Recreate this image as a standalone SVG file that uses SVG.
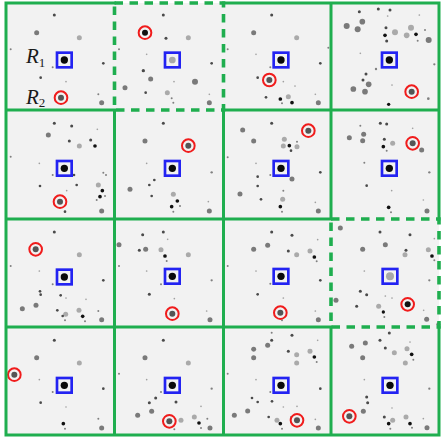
<svg xmlns="http://www.w3.org/2000/svg" xmlns:xlink="http://www.w3.org/1999/xlink" width="442" height="437" viewBox="0 0 442 437">
<style>
.t{fill:#a0a0a0}
.s{fill:#808080}
.sd{fill:#4a4a4a}
.b{fill:#111}
.g{fill:#7a7a7a}
.lg{fill:#aaaaaa}
.ck{fill:#0a0a0a}
.cl{fill:#a8a8a8}
.rk{fill:#111}
.rg{fill:#555}
.grid{fill:none;stroke:#1fae4f;stroke-width:3;stroke-linecap:square}
.dash{fill:none;stroke:#1fae4f;stroke-width:3.6;stroke-dasharray:8.5 6.5}
.lbl{font-family:"Liberation Serif","Times New Roman",serif;fill:#1a1a1a}
</style>
<defs>
<rect id="sq" x="-22" y="-22" width="44" height="44" fill="none" stroke="#2323f2" stroke-width="8"/>
<circle id="ring" r="19" fill="none" stroke="#f01c1c" stroke-width="6"/>
</defs>
<rect x="6" y="3" width="433" height="432" fill="#f2f2f2"/>

<g id="cell-r0c0" transform="scale(0.33333)">
<circle cx="163" cy="45" r="4.5" class="sd"/><circle cx="110" cy="98" r="7.5" class="g"/><circle cx="238" cy="113" r="7.5" class="lg"/><circle cx="32" cy="148" r="3" class="s"/><circle cx="310" cy="190" r="4" class="sd"/><circle cx="158" cy="202" r="3" class="s"/><circle cx="122" cy="233" r="4" class="sd"/><circle cx="198" cy="245" r="2.5" class="t"/><circle cx="295" cy="283" r="3" class="s"/><circle cx="305" cy="308" r="7.5" class="g"/>
<use xlink:href="#sq" x="193" y="180"/><circle cx="193" cy="180" r="11" class="ck"/>
<use xlink:href="#ring" x="183" y="293"/><circle cx="183" cy="293" r="9" class="rg"/>
</g>
<g id="cell-r0c1" transform="scale(0.33333)">
<circle cx="490" cy="45" r="4.5" class="sd"/><circle cx="498" cy="115" r="4.5" class="sd"/><circle cx="565" cy="113" r="7.5" class="lg"/><circle cx="440" cy="163" r="2.5" class="t"/><circle cx="357" cy="148" r="3" class="s"/><circle cx="635" cy="190" r="4" class="sd"/><circle cx="430" cy="212" r="5" class="sd"/><circle cx="452" cy="237" r="7.5" class="g"/><circle cx="522" cy="245" r="2.5" class="t"/><circle cx="585" cy="245" r="9" class="g"/><circle cx="375" cy="263" r="7.5" class="g"/><circle cx="437" cy="278" r="4" class="sd"/><circle cx="502" cy="278" r="7.5" class="lg"/><circle cx="515" cy="295" r="3" class="s"/><circle cx="520" cy="308" r="3" class="s"/><circle cx="628" cy="308" r="7.5" class="g"/><circle cx="628" cy="283" r="2.5" class="t"/>
<use xlink:href="#sq" x="517" y="180"/><circle cx="517" cy="180" r="10" class="cl"/>
<use xlink:href="#ring" x="435" y="98"/><circle cx="435" cy="98" r="9" class="rk"/>
</g>
<g id="cell-r1c0" transform="scale(0.33333)">
<circle cx="163" cy="370" r="4.5" class="sd"/><circle cx="215" cy="378" r="4.5" class="sd"/><circle cx="145" cy="405" r="7.5" class="g"/><circle cx="208" cy="423" r="4.5" class="sd"/><circle cx="238" cy="438" r="7.5" class="lg"/><circle cx="272" cy="420" r="4.5" class="sd"/><circle cx="292" cy="388" r="2.5" class="t"/><circle cx="285" cy="438" r="5.5" class="b"/><circle cx="32" cy="470" r="3" class="s"/><circle cx="118" cy="490" r="2.5" class="t"/><circle cx="158" cy="525" r="3" class="s"/><circle cx="222" cy="525" r="4" class="sd"/><circle cx="310" cy="518" r="3" class="s"/><circle cx="318" cy="525" r="3" class="s"/><circle cx="120" cy="558" r="4" class="sd"/><circle cx="230" cy="555" r="4" class="sd"/><circle cx="295" cy="555" r="7.5" class="lg"/><circle cx="200" cy="572" r="2.5" class="t"/><circle cx="307" cy="572" r="5.5" class="b"/><circle cx="300" cy="590" r="5.5" class="b"/><circle cx="290" cy="600" r="3" class="s"/><circle cx="315" cy="588" r="3" class="s"/><circle cx="195" cy="635" r="4" class="sd"/><circle cx="305" cy="633" r="7.5" class="g"/>
<use xlink:href="#sq" x="193" y="505"/><circle cx="193" cy="505" r="11" class="ck"/>
<use xlink:href="#ring" x="180" y="605"/><circle cx="180" cy="605" r="9" class="rg"/>
</g>
<g id="cell-r1c1" transform="scale(0.33333)">
<circle cx="490" cy="370" r="4.5" class="sd"/><circle cx="435" cy="423" r="7.5" class="g"/><circle cx="440" cy="490" r="2.5" class="t"/><circle cx="635" cy="517" r="3.5" class="s"/><circle cx="463" cy="540" r="4" class="sd"/><circle cx="448" cy="555" r="4" class="sd"/><circle cx="390" cy="568" r="7.5" class="g"/><circle cx="455" cy="588" r="4" class="sd"/><circle cx="520" cy="583" r="7.5" class="lg"/><circle cx="532" cy="603" r="5.5" class="b"/><circle cx="515" cy="620" r="5.5" class="b"/><circle cx="540" cy="618" r="3" class="s"/><circle cx="520" cy="635" r="3" class="s"/><circle cx="628" cy="633" r="7.5" class="g"/><circle cx="625" cy="605" r="2.5" class="t"/>
<use xlink:href="#sq" x="517" y="505"/><circle cx="517" cy="505" r="11" class="ck"/>
<use xlink:href="#ring" x="565" y="437"/><circle cx="565" cy="437" r="9" class="rg"/>
</g>

<g id="cell-r0c2" transform="translate(221,0) scale(0.33333)">
<circle cx="152" cy="45" r="4.5" class="sd"/><circle cx="98" cy="98" r="7.5" class="g"/><circle cx="227" cy="113" r="7.5" class="lg"/><circle cx="20" cy="148" r="3" class="s"/><circle cx="322" cy="143" r="3" class="s"/><circle cx="105" cy="163" r="2.5" class="t"/><circle cx="298" cy="190" r="4" class="sd"/><circle cx="148" cy="202" r="3" class="s"/><circle cx="110" cy="233" r="4" class="sd"/><circle cx="187" cy="245" r="2.5" class="t"/><circle cx="222" cy="258" r="2.5" class="t"/><circle cx="283" cy="283" r="2.5" class="t"/><circle cx="135" cy="292" r="4" class="sd"/><circle cx="178" cy="297" r="5.5" class="b"/><circle cx="202" cy="290" r="7.5" class="lg"/><circle cx="213" cy="308" r="5.5" class="b"/><circle cx="183" cy="310" r="3" class="s"/><circle cx="292" cy="308" r="7.5" class="g"/>
<use xlink:href="#sq" x="180" y="180"/><circle cx="180" cy="180" r="11" class="ck"/>
<use xlink:href="#ring" x="145" y="240"/><circle cx="145" cy="240" r="9" class="rg"/>
</g>
<g id="cell-r0c3" transform="translate(221,0) scale(0.33333)">
<circle cx="415" cy="35" r="4.5" class="sd"/><circle cx="472" cy="27" r="4.5" class="sd"/><circle cx="507" cy="30" r="4.5" class="sd"/><circle cx="500" cy="48" r="2.5" class="t"/><circle cx="595" cy="45" r="2.5" class="t"/><circle cx="424" cy="65" r="8.5" class="g"/><circle cx="377" cy="78" r="9" class="g"/><circle cx="410" cy="88" r="9" class="g"/><circle cx="495" cy="83" r="4.5" class="sd"/><circle cx="570" cy="83" r="9" class="lg"/><circle cx="522" cy="97" r="9" class="lg"/><circle cx="492" cy="106" r="5.5" class="b"/><circle cx="585" cy="103" r="5.5" class="b"/><circle cx="612" cy="90" r="3" class="s"/><circle cx="557" cy="106" r="8.5" class="lg"/><circle cx="497" cy="123" r="4.5" class="sd"/><circle cx="590" cy="122" r="3" class="s"/><circle cx="623" cy="120" r="9" class="g"/><circle cx="418" cy="160" r="2.5" class="t"/><circle cx="640" cy="193" r="3.5" class="s"/><circle cx="465" cy="207" r="3.5" class="s"/><circle cx="435" cy="222" r="4.5" class="sd"/><circle cx="426" cy="240" r="4.5" class="sd"/><circle cx="443" cy="253" r="8.5" class="g"/><circle cx="513" cy="255" r="2.5" class="t"/><circle cx="397" cy="267" r="8.5" class="g"/><circle cx="432" cy="275" r="8.5" class="g"/><circle cx="622" cy="296" r="4" class="s"/><circle cx="503" cy="313" r="5" class="b"/>
<use xlink:href="#sq" x="505" y="180"/><circle cx="505" cy="180" r="11" class="ck"/>
<use xlink:href="#ring" x="572" y="275"/><circle cx="572" cy="275" r="9" class="rg"/>
</g>
<g id="cell-r1c2" transform="translate(221,0) scale(0.33333)">
<circle cx="152" cy="370" r="4.5" class="sd"/><circle cx="65" cy="390" r="7.5" class="g"/><circle cx="98" cy="423" r="7.5" class="g"/><circle cx="190" cy="418" r="7.5" class="lg"/><circle cx="187" cy="438" r="7.5" class="lg"/><circle cx="205" cy="437" r="5.5" class="b"/><circle cx="228" cy="425" r="3" class="s"/><circle cx="228" cy="440" r="7.5" class="lg"/><circle cx="210" cy="452" r="4" class="sd"/><circle cx="20" cy="472" r="3" class="s"/><circle cx="105" cy="490" r="2.5" class="t"/><circle cx="298" cy="517" r="4" class="sd"/><circle cx="148" cy="525" r="3" class="s"/><circle cx="213" cy="537" r="7.5" class="g"/><circle cx="110" cy="530" r="4" class="sd"/><circle cx="110" cy="558" r="4" class="sd"/><circle cx="187" cy="572" r="3" class="s"/><circle cx="57" cy="582" r="7.5" class="g"/><circle cx="185" cy="598" r="7.5" class="lg"/><circle cx="120" cy="598" r="4" class="sd"/><circle cx="178" cy="620" r="5.5" class="b"/><circle cx="183" cy="635" r="3" class="s"/><circle cx="283" cy="607" r="2.5" class="t"/><circle cx="292" cy="633" r="7.5" class="g"/>
<use xlink:href="#sq" x="180" y="505"/><circle cx="180" cy="505" r="11" class="ck"/>
<use xlink:href="#ring" x="262" y="392"/><circle cx="262" cy="392" r="9" class="rg"/>
</g>
<g id="cell-r1c3" transform="translate(221,0) scale(0.33333)">
<circle cx="418" cy="377" r="3" class="s"/><circle cx="478" cy="370" r="4.5" class="sd"/><circle cx="497" cy="372" r="4.5" class="sd"/><circle cx="575" cy="385" r="2.5" class="t"/><circle cx="428" cy="403" r="7.5" class="g"/><circle cx="385" cy="413" r="7.5" class="g"/><circle cx="490" cy="418" r="4.5" class="sd"/><circle cx="425" cy="422" r="7.5" class="g"/><circle cx="515" cy="430" r="7.5" class="lg"/><circle cx="487" cy="440" r="5.5" class="b"/><circle cx="497" cy="452" r="3" class="s"/><circle cx="602" cy="450" r="7.5" class="g"/><circle cx="430" cy="488" r="3" class="s"/><circle cx="625" cy="517" r="3.5" class="s"/><circle cx="437" cy="557" r="4" class="sd"/><circle cx="512" cy="572" r="2.5" class="t"/><circle cx="607" cy="600" r="2.5" class="t"/><circle cx="503" cy="622" r="5.5" class="b"/><circle cx="510" cy="637" r="3" class="s"/><circle cx="618" cy="633" r="7.5" class="g"/>
<use xlink:href="#sq" x="505" y="505"/><circle cx="505" cy="505" r="11" class="ck"/>
<use xlink:href="#ring" x="575" y="430"/><circle cx="575" cy="430" r="9" class="rg"/>
</g>

<g id="cell-r2c0" transform="translate(0,217) scale(0.33333)">
<circle cx="163" cy="45" r="4.5" class="sd"/><circle cx="238" cy="113" r="7.5" class="lg"/><circle cx="32" cy="147" r="3" class="s"/><circle cx="118" cy="162" r="2.5" class="t"/><circle cx="310" cy="190" r="4" class="sd"/><circle cx="158" cy="202" r="3" class="s"/><circle cx="120" cy="223" r="4" class="sd"/><circle cx="122" cy="233" r="4" class="sd"/><circle cx="182" cy="235" r="4" class="sd"/><circle cx="198" cy="243" r="2.5" class="t"/><circle cx="258" cy="247" r="2.5" class="t"/><circle cx="67" cy="275" r="7.5" class="g"/><circle cx="108" cy="265" r="7.5" class="g"/><circle cx="172" cy="280" r="4" class="sd"/><circle cx="197" cy="292" r="7.5" class="lg"/><circle cx="188" cy="297" r="4" class="sd"/><circle cx="237" cy="280" r="7.5" class="lg"/><circle cx="295" cy="282" r="3" class="s"/><circle cx="248" cy="298" r="5.5" class="b"/><circle cx="195" cy="310" r="3" class="s"/><circle cx="255" cy="313" r="3" class="s"/><circle cx="305" cy="308" r="7.5" class="g"/>
<use xlink:href="#sq" x="193" y="180"/><circle cx="193" cy="180" r="11" class="ck"/>
<use xlink:href="#ring" x="107" y="97"/><circle cx="107" cy="97" r="9" class="rg"/>
</g>
<g id="cell-r2c1" transform="translate(0,217) scale(0.33333)">
<circle cx="428" cy="53" r="4.5" class="sd"/><circle cx="490" cy="45" r="4.5" class="sd"/><circle cx="503" cy="67" r="2.5" class="t"/><circle cx="357" cy="83" r="7.5" class="g"/><circle cx="418" cy="100" r="4.5" class="sd"/><circle cx="437" cy="97" r="7.5" class="g"/><circle cx="483" cy="98" r="7.5" class="lg"/><circle cx="565" cy="113" r="7.5" class="lg"/><circle cx="495" cy="117" r="5.5" class="b"/><circle cx="500" cy="132" r="3" class="s"/><circle cx="357" cy="147" r="3" class="s"/><circle cx="440" cy="162" r="2.5" class="t"/><circle cx="635" cy="190" r="3.5" class="s"/><circle cx="483" cy="202" r="3" class="s"/><circle cx="448" cy="232" r="4.5" class="sd"/><circle cx="523" cy="245" r="2.5" class="t"/><circle cx="620" cy="282" r="2.5" class="t"/><circle cx="630" cy="308" r="7.5" class="g"/>
<use xlink:href="#sq" x="517" y="178"/><circle cx="517" cy="178" r="11" class="ck"/>
<use xlink:href="#ring" x="517" y="290"/><circle cx="517" cy="290" r="9" class="rg"/>
</g>
<g id="cell-r3c0" transform="translate(0,217) scale(0.33333)">
<circle cx="163" cy="370" r="4.5" class="sd"/><circle cx="110" cy="422" r="7.5" class="g"/><circle cx="238" cy="438" r="7.5" class="lg"/><circle cx="118" cy="488" r="2.5" class="t"/><circle cx="310" cy="515" r="4" class="sd"/><circle cx="158" cy="525" r="3" class="s"/><circle cx="122" cy="557" r="4" class="sd"/><circle cx="198" cy="570" r="2.5" class="t"/><circle cx="295" cy="605" r="3" class="s"/><circle cx="190" cy="620" r="5.5" class="b"/><circle cx="195" cy="635" r="3" class="s"/><circle cx="305" cy="633" r="7.5" class="g"/>
<use xlink:href="#sq" x="193" y="505"/><circle cx="193" cy="505" r="11" class="ck"/>
<use xlink:href="#ring" x="43" y="473"/><circle cx="43" cy="473" r="9" class="rg"/>
</g>
<g id="cell-r3c1" transform="translate(0,217) scale(0.33333)">
<circle cx="490" cy="370" r="4.5" class="sd"/><circle cx="435" cy="422" r="7.5" class="g"/><circle cx="565" cy="438" r="7.5" class="lg"/><circle cx="357" cy="470" r="3" class="s"/><circle cx="440" cy="488" r="2.5" class="t"/><circle cx="635" cy="515" r="3.5" class="s"/><circle cx="483" cy="525" r="3" class="s"/><circle cx="467" cy="543" r="4.5" class="sd"/><circle cx="448" cy="557" r="4.5" class="sd"/><circle cx="528" cy="555" r="4.5" class="sd"/><circle cx="455" cy="583" r="7.5" class="g"/><circle cx="413" cy="595" r="7.5" class="g"/><circle cx="603" cy="568" r="2.5" class="t"/><circle cx="543" cy="610" r="7.5" class="lg"/><circle cx="583" cy="600" r="7.5" class="lg"/><circle cx="597" cy="618" r="5.5" class="b"/><circle cx="622" cy="605" r="3" class="s"/><circle cx="603" cy="633" r="3" class="s"/><circle cx="630" cy="633" r="7.5" class="g"/><circle cx="523" cy="637" r="3" class="s"/>
<use xlink:href="#sq" x="517" y="505"/><circle cx="517" cy="505" r="11" class="ck"/>
<use xlink:href="#ring" x="508" y="613"/><circle cx="508" cy="613" r="9" class="rg"/>
</g>

<g id="cell-r2c2" transform="translate(221,217) scale(0.33333)">
<circle cx="152" cy="45" r="4.5" class="sd"/><circle cx="213" cy="55" r="4.5" class="sd"/><circle cx="98" cy="97" r="7.5" class="g"/><circle cx="140" cy="85" r="7.5" class="g"/><circle cx="202" cy="102" r="4.5" class="sd"/><circle cx="227" cy="113" r="7.5" class="lg"/><circle cx="267" cy="102" r="7.5" class="lg"/><circle cx="280" cy="120" r="5.5" class="b"/><circle cx="287" cy="133" r="3" class="s"/><circle cx="290" cy="68" r="2.5" class="t"/><circle cx="20" cy="147" r="3" class="s"/><circle cx="105" cy="162" r="2.5" class="t"/><circle cx="298" cy="190" r="4" class="sd"/><circle cx="148" cy="200" r="3" class="s"/><circle cx="110" cy="232" r="4" class="sd"/><circle cx="187" cy="243" r="2.5" class="t"/><circle cx="283" cy="282" r="2.5" class="t"/><circle cx="183" cy="310" r="3" class="s"/><circle cx="292" cy="308" r="7.5" class="g"/>
<use xlink:href="#sq" x="180" y="178"/><circle cx="180" cy="178" r="11" class="ck"/>
<use xlink:href="#ring" x="178" y="287"/><circle cx="178" cy="287" r="9" class="rg"/>
</g>
<g id="cell-r2c3" transform="translate(221,217) scale(0.33333)">
<circle cx="358" cy="33" r="7.5" class="g"/><circle cx="477" cy="45" r="4.5" class="sd"/><circle cx="567" cy="53" r="4.5" class="sd"/><circle cx="640" cy="65" r="2.5" class="t"/><circle cx="425" cy="97" r="7.5" class="g"/><circle cx="493" cy="83" r="7.5" class="g"/><circle cx="555" cy="100" r="4.5" class="sd"/><circle cx="552" cy="113" r="7.5" class="lg"/><circle cx="622" cy="98" r="7.5" class="lg"/><circle cx="633" cy="117" r="5.5" class="b"/><circle cx="640" cy="130" r="3" class="s"/><circle cx="430" cy="162" r="2.5" class="t"/><circle cx="625" cy="190" r="3.5" class="s"/><circle cx="418" cy="223" r="4.5" class="sd"/><circle cx="437" cy="233" r="4.5" class="sd"/><circle cx="493" cy="237" r="2.5" class="t"/><circle cx="513" cy="243" r="2.5" class="t"/><circle cx="345" cy="250" r="7.5" class="g"/><circle cx="407" cy="268" r="4.5" class="sd"/><circle cx="473" cy="268" r="7.5" class="lg"/><circle cx="487" cy="285" r="5" class="b"/><circle cx="490" cy="300" r="3" class="s"/><circle cx="608" cy="280" r="2.5" class="t"/><circle cx="617" cy="307" r="7.5" class="g"/><circle cx="652" cy="322" r="6" class="g"/>
<use xlink:href="#sq" x="507" y="178"/><circle cx="507" cy="178" r="12" class="cl"/>
<use xlink:href="#ring" x="560" y="262"/><circle cx="560" cy="262" r="9" class="rk"/>
</g>
<g id="cell-r3c2" transform="translate(221,217) scale(0.33333)">
<circle cx="152" cy="347" r="3" class="s"/><circle cx="213" cy="355" r="4.5" class="sd"/><circle cx="152" cy="370" r="4.5" class="sd"/><circle cx="290" cy="370" r="2.5" class="t"/><circle cx="140" cy="385" r="7.5" class="g"/><circle cx="98" cy="397" r="7.5" class="g"/><circle cx="98" cy="422" r="7.5" class="g"/><circle cx="202" cy="403" r="4.5" class="sd"/><circle cx="227" cy="413" r="7.5" class="lg"/><circle cx="227" cy="438" r="7.5" class="lg"/><circle cx="267" cy="403" r="7.5" class="lg"/><circle cx="280" cy="420" r="5.5" class="b"/><circle cx="287" cy="435" r="3" class="s"/><circle cx="20" cy="470" r="3" class="s"/><circle cx="105" cy="488" r="2.5" class="t"/><circle cx="298" cy="515" r="4" class="sd"/><circle cx="148" cy="525" r="3" class="s"/><circle cx="93" cy="543" r="4" class="sd"/><circle cx="110" cy="555" r="4" class="sd"/><circle cx="153" cy="553" r="4" class="sd"/><circle cx="187" cy="570" r="2.5" class="t"/><circle cx="228" cy="568" r="2.5" class="t"/><circle cx="40" cy="595" r="7.5" class="g"/><circle cx="80" cy="582" r="7.5" class="g"/><circle cx="143" cy="600" r="4" class="sd"/><circle cx="168" cy="610" r="7.5" class="lg"/><circle cx="178" cy="620" r="5.5" class="b"/><circle cx="183" cy="635" r="3" class="s"/><circle cx="210" cy="600" r="3" class="s"/><circle cx="283" cy="607" r="2.5" class="t"/><circle cx="292" cy="633" r="7.5" class="g"/>
<use xlink:href="#sq" x="180" y="505"/><circle cx="180" cy="505" r="11" class="ck"/>
<use xlink:href="#ring" x="228" y="610"/><circle cx="228" cy="610" r="9" class="rg"/>
</g>
<g id="cell-r3c3" transform="translate(221,217) scale(0.33333)">
<circle cx="505" cy="348" r="4.5" class="sd"/><circle cx="477" cy="370" r="4.5" class="sd"/><circle cx="567" cy="375" r="2.5" class="t"/><circle cx="433" cy="378" r="7.5" class="g"/><circle cx="392" cy="388" r="7.5" class="g"/><circle cx="493" cy="393" r="4.5" class="sd"/><circle cx="425" cy="422" r="7.5" class="g"/><circle cx="520" cy="407" r="7.5" class="lg"/><circle cx="558" cy="395" r="7.5" class="lg"/><circle cx="572" cy="412" r="5.5" class="b"/><circle cx="577" cy="428" r="3" class="s"/><circle cx="553" cy="438" r="7.5" class="lg"/><circle cx="430" cy="488" r="2.5" class="t"/><circle cx="625" cy="515" r="3.5" class="s"/><circle cx="437" cy="540" r="4.5" class="sd"/><circle cx="440" cy="557" r="4.5" class="sd"/><circle cx="513" cy="573" r="2.5" class="t"/><circle cx="427" cy="583" r="7.5" class="g"/><circle cx="555" cy="600" r="7.5" class="lg"/><circle cx="490" cy="600" r="4.5" class="sd"/><circle cx="515" cy="610" r="7.5" class="lg"/><circle cx="503" cy="620" r="5.5" class="b"/><circle cx="508" cy="635" r="3" class="s"/><circle cx="567" cy="620" r="5.5" class="b"/><circle cx="573" cy="632" r="3" class="s"/><circle cx="607" cy="605" r="2.5" class="t"/><circle cx="618" cy="632" r="7.5" class="g"/>
<use xlink:href="#sq" x="507" y="505"/><circle cx="507" cy="505" r="11" class="ck"/>
<use xlink:href="#ring" x="385" y="598"/><circle cx="385" cy="598" r="9" class="rg"/>
</g>

<g id="grid">
<path class="grid" d="M6 3V435 M114.5 110V435 M223.5 110V435 M331 3V219 M331 327V435 M439 3V219 M439 327V435 M6 3H114.5 M223.5 3H439 M6 110H114.5 M223.5 110H439 M6 219H331 M6 327H331 M6 435H439"/>
<rect class="dash" x="114.5" y="3" width="109" height="107"/>
<rect class="dash" x="331" y="219" width="108" height="108"/>
</g>

<g id="labels">
<text class="lbl" x="26" y="63" font-size="21"><tspan font-style="italic">R</tspan><tspan font-size="13" dy="4">1</tspan></text>
<text class="lbl" x="26" y="104" font-size="21"><tspan font-style="italic">R</tspan><tspan font-size="13" dy="3">2</tspan></text>
</g>
</svg>
